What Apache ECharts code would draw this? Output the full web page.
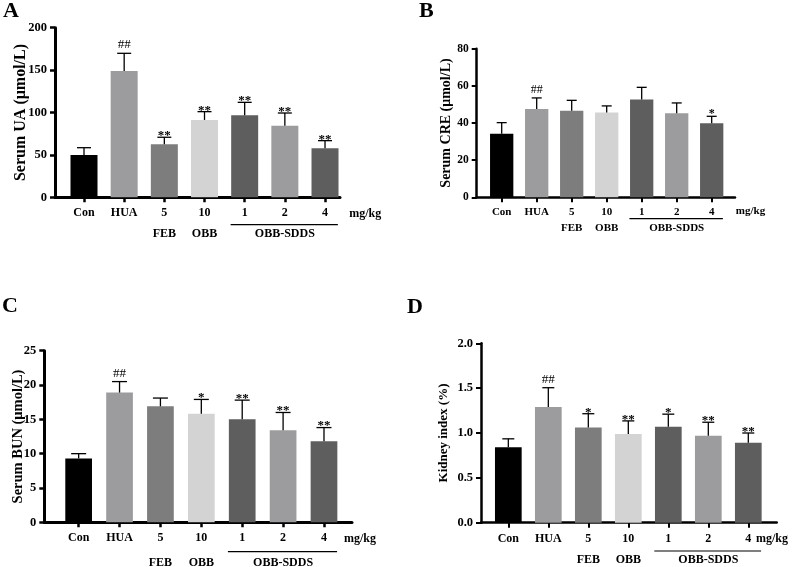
<!DOCTYPE html>
<html>
<head>
<meta charset="utf-8">
<script src="https://cdn.jsdelivr.net/npm/echarts@6/dist/echarts.min.js"></script>
<style>
  html, body { margin: 0; padding: 0; background: #fff; }
  #main { width: 800px; height: 567px; }
</style>
</head>
<body>
<div id="main"></div>
<script>
var chart = echarts.init(document.getElementById('main'), null, {renderer: 'canvas'});

var FONT = "'Liberation Serif', 'Times New Roman', serif";

// groups, same order in every panel
var categories = ['Con', 'HUA', '5', '10', '1', '2', '4'];
var barColors = ['#000000', '#9c9c9e', '#7d7d7d', '#d3d3d3', '#5e5e5e', '#9c9c9e', '#5e5e5e'];
var groupLabels = [
  {text: 'FEB', from: 2, to: 2},
  {text: 'OBB', from: 3, to: 3},
  {text: 'OBB-SDDS', from: 4, to: 6, line: true}
];

// A: serum UA
var uaMean = [50, 149, 62.5, 91.2, 96.7, 84.4, 57.8];
var uaSd = [8.5, 20.8, 8.3, 9.8, 15.3, 15, 9];
var uaMarks = ['', '##', '**', '**', '**', '**', '**'];

// B: serum CRE
var creMean = [34.2, 47.5, 46.6, 45.6, 52.6, 45.2, 39.8];
var creSd = [6, 6, 5.6, 3.6, 6.6, 5.6, 3.8];
var creMarks = ['', '##', '', '', '', '', '*'];

// C: serum BUN
var bunMean = [9.3, 18.9, 16.9, 15.8, 15.0, 13.4, 11.8];
var bunSd = [0.7, 1.6, 1.2, 2.1, 2.8, 2.6, 2.0];
var bunMarks = ['', '##', '', '*', '**', '**', '**'];

// D: kidney index
var kiMean = [0.84, 1.29, 1.06, 0.99, 1.07, 0.97, 0.89];
var kiSd = [0.095, 0.215, 0.155, 0.145, 0.14, 0.15, 0.11];
var kiMarks = ['', '##', '*', '**', '*', '**', '**'];

var panels = [
  {letter: 'A', name: 'Serum UA (\u03bcmol/L)', mean: uaMean, sd: uaSd, marks: uaMarks,
   yMax: 200, yStep: 50, dec: 0,
   L: {left: 55, top: 27.7, width: 285, height: 169.6, xMin: -0.722, xMax: 6.373, barW: 27, cap: 7,
       lineW: 3, nameGap: 26, nameSize: 16, font: 12, yFont: 12.5, margin: 10, lineOff: 27.4, rowOff: 37,
       unitX: 7.0, unitOff: 16.7, lx: 3, ly: 0}},
  {letter: 'B', name: 'Serum CRE (\u03bcmol/L)', mean: creMean, sd: creSd, marks: creMarks,
   yMax: 80, yStep: 20, dec: 0,
   L: {left: 476.7, top: 48.7, width: 258.3, height: 148.6, xMin: -0.714, xMax: 6.666, barW: 23.3, cap: 5,
       lineW: 2.5, nameGap: 23, nameSize: 14, font: 11, yFont: 11.5, margin: 9, lineOff: 21.4, rowOff: 30.4,
       unitX: 7.11, unitOff: 13.4, lx: 419, ly: 0}},
  {letter: 'C', name: 'Serum BUN (\u03bcmol/L)', mean: bunMean, sd: bunSd, marks: bunMarks,
   yMax: 25, yStep: 5, dec: 0,
   L: {left: 44.3, top: 350.7, width: 307.7, height: 171.6, xMin: -0.84, xMax: 6.685, barW: 26.7, cap: 7.5,
       lineW: 3, nameGap: 19, nameSize: 14.5, font: 12, yFont: 12.5, margin: 10, lineOff: 29.4, rowOff: 40.4,
       unitX: 6.88, unitOff: 17, lx: 2, ly: 295}},
  {letter: 'D', name: 'Kidney index (%)', mean: kiMean, sd: kiSd, marks: kiMarks,
   yMax: 2, yStep: 0.5, dec: 1,
   L: {left: 481, top: 343.3, width: 295.7, height: 179.4, xMin: -0.683, xMax: 6.71, barW: 26.7, cap: 6,
       lineW: 2.5, nameGap: 31, nameSize: 13, font: 12, yFont: 12.5, margin: 10, lineOff: 28.3, rowOff: 37.3,
       unitX: 6.59, unitOff: 16.6, lx: 407, ly: 296}}
];

var ticks = categories.map(function (c, i) { return i; });

var option = {
  backgroundColor: '#fff',
  animation: false,
  title: [], grid: [], xAxis: [], yAxis: [], series: []
};

panels.forEach(function (p, idx) {
  var L = p.L;
  option.title.push({
    text: p.letter, left: L.lx, top: L.ly, padding: 0,
    textStyle: {fontFamily: FONT, fontSize: 22, fontWeight: 'bold', color: '#000'}
  });
  option.grid.push({left: L.left, top: L.top, width: L.width, height: L.height, containLabel: false});
  option.xAxis.push({
    type: 'value', gridIndex: idx, min: L.xMin, max: L.xMax,
    splitLine: {show: false},
    axisLine: {show: true, onZero: false, lineStyle: {color: '#000', width: L.lineW}},
    axisTick: {show: true, customValues: ticks, length: 5, lineStyle: {color: '#000', width: L.lineW - 0.5}},
    axisLabel: {
      customValues: ticks, margin: L.margin, color: '#000',
      fontFamily: FONT, fontWeight: 'bold', fontSize: L.font,
      formatter: function (v) { return categories[Math.round(v)]; }
    }
  });
  option.yAxis.push({
    type: 'value', gridIndex: idx, min: 0, max: p.yMax, interval: p.yStep,
    name: p.name, nameLocation: 'middle', nameGap: L.nameGap, nameMoveOverlap: false,
    nameTextStyle: {fontFamily: FONT, fontWeight: 'bold', fontSize: L.nameSize, color: '#000'},
    splitLine: {show: false},
    axisLine: {show: true, onZero: false, lineStyle: {color: '#000', width: L.lineW}},
    axisTick: {show: true, length: 5, lineStyle: {color: '#000', width: L.lineW - 0.5}},
    axisLabel: {
      margin: 8, color: '#000', fontFamily: FONT, fontWeight: 'bold', fontSize: L.yFont,
      formatter: function (v) { return v.toFixed(p.dec); }
    }
  });

  option.series.push({
    type: 'bar', xAxisIndex: idx, yAxisIndex: idx, barWidth: L.barW,
    data: p.mean.map(function (m, i) {
      return {value: [i, m], itemStyle: {color: barColors[i]}};
    })
  });

  // error bars (upper SD) and significance marks
  option.series.push({
    type: 'custom', xAxisIndex: idx, yAxisIndex: idx, z: 3, clip: false,
    data: p.mean.map(function (m, i) { return [i, m, p.sd[i]]; }),
    renderItem: function (params, api) {
      var i = api.value(0), m = api.value(1), s = api.value(2);
      var a = api.coord([i, m]);
      var b = api.coord([i, m + s]);
      var st = {stroke: '#000', lineWidth: 1.3};
      var kids = [
        {type: 'line', shape: {x1: a[0], y1: a[1], x2: b[0], y2: b[1]}, style: st},
        {type: 'line', shape: {x1: b[0] - L.cap, y1: b[1], x2: b[0] + L.cap, y2: b[1]}, style: st}
      ];
      var mk = p.marks[params.dataIndex];
      if (mk) {
        var hash = mk.charAt(0) === '#';
        kids.push({
          type: 'text',
          style: {
            text: mk, x: b[0], y: hash ? b[1] - 2 : b[1] - 8,
            align: 'center', verticalAlign: hash ? 'bottom' : 'top',
            font: (hash ? 'normal ' : 'bold ') + (L.font + 1) + 'px ' + FONT, fill: '#000'
          }
        });
      }
      return {type: 'group', children: kids};
    }
  });

  // drug labels under the axis, the OBB-SDDS bracket line and the unit
  option.series.push({
    type: 'custom', xAxisIndex: idx, yAxisIndex: idx, z: 3, clip: false, silent: true,
    data: [[0, 0]],
    renderItem: function (params, api) {
      var base = api.coord([0, 0])[1];
      var font = 'bold ' + L.font + 'px ' + FONT;
      var kids = [];
      groupLabels.forEach(function (g) {
        var x1 = api.coord([g.from, 0])[0];
        var x2 = api.coord([g.to, 0])[0];
        kids.push({type: 'text', style: {text: g.text, x: (x1 + x2) / 2, y: base + L.rowOff,
          align: 'center', verticalAlign: 'middle', font: font, fill: '#000'}});
        if (g.line) {
          var la = api.coord([g.from - 0.35, 0])[0];
          var lb = api.coord([g.to + 0.32, 0])[0];
          kids.push({type: 'line', shape: {x1: la, y1: base + L.lineOff, x2: lb, y2: base + L.lineOff},
            style: {stroke: '#000', lineWidth: 1.2}});
        }
      });
      kids.push({type: 'text', style: {text: 'mg/kg', x: api.coord([L.unitX, 0])[0], y: base + L.unitOff,
        align: 'center', verticalAlign: 'middle', font: font, fill: '#000'}});
      return {type: 'group', children: kids};
    }
  });
});

chart.setOption(option);
</script>
</body>
</html>
